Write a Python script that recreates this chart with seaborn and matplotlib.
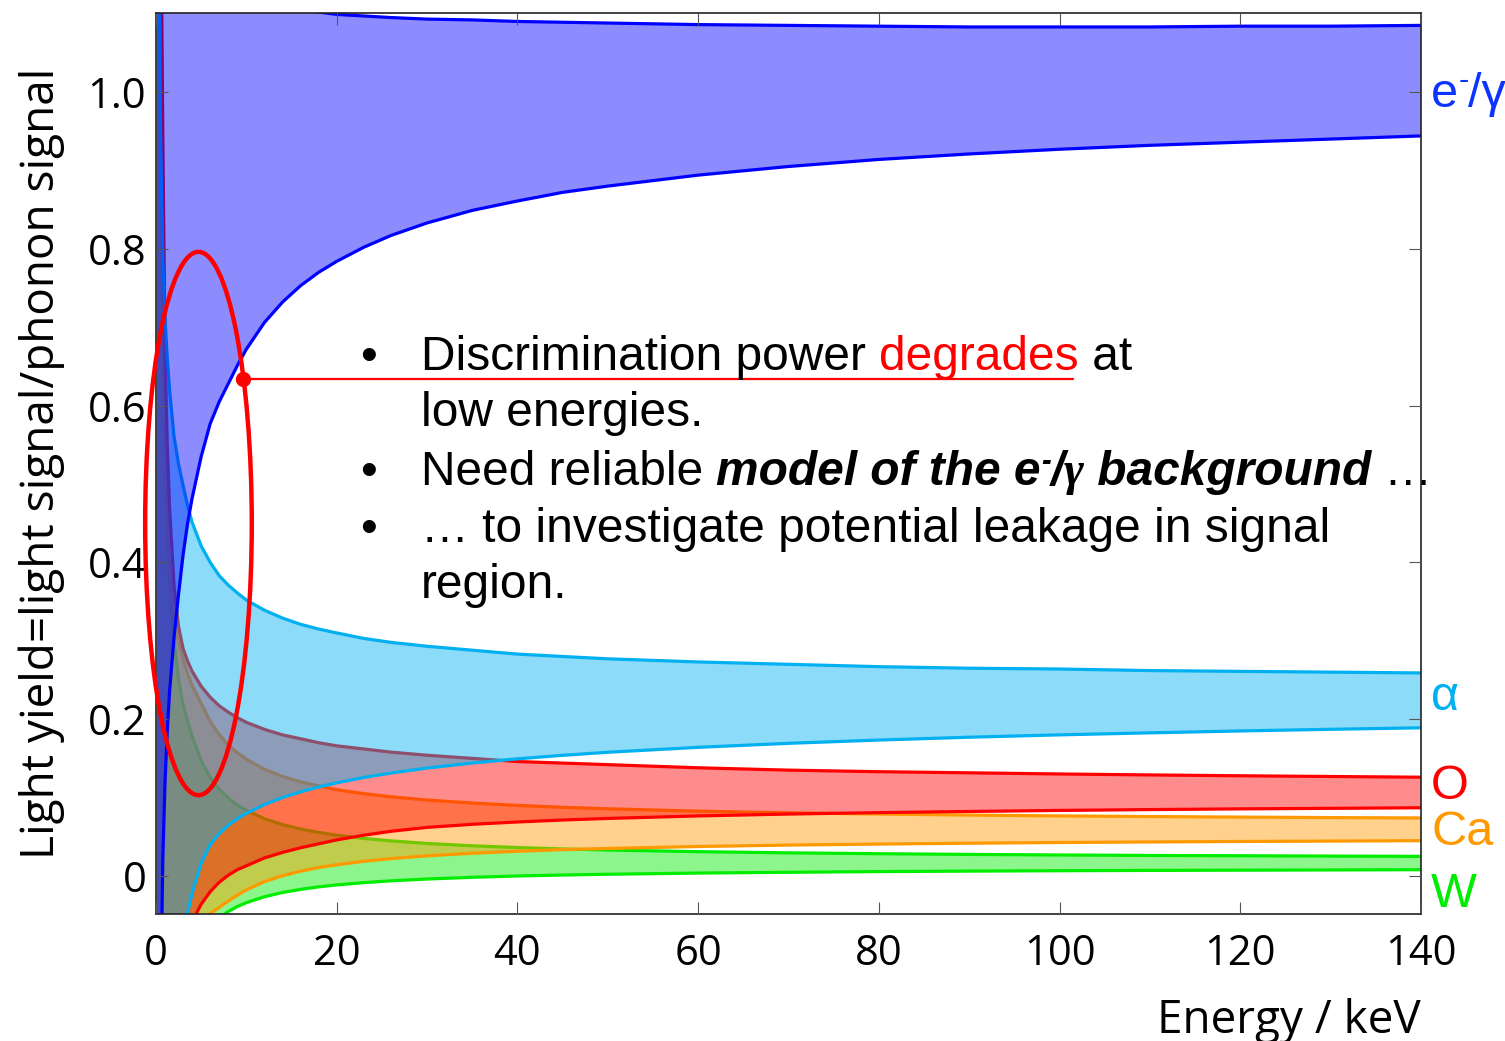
import numpy as np
import pandas as pd
import matplotlib
matplotlib.use("Agg")
import matplotlib.pyplot as plt
import seaborn as sns
from matplotlib.patches import Ellipse

# ---------------- data ----------------
energy = [0.1, 0.3, 0.5, 0.75, 1.0, 1.25, 1.5, 2, 2.5, 3, 3.5, 4, 5, 6, 7, 8, 9, 10, 12, 14,
          16, 18, 20, 23, 26, 30, 35, 40, 45, 50, 60, 70, 80, 90, 100, 110, 120, 130, 140]

egamma_upper = [5.0, 3.0, 2.0, 1.7, 1.55, 1.46, 1.4, 1.33, 1.29, 1.26, 1.24, 1.22, 1.19, 1.17,
                1.155, 1.145, 1.137, 1.13, 1.119, 1.111, 1.106, 1.102, 1.099, 1.097, 1.095,
                1.093, 1.092, 1.090, 1.089, 1.088, 1.086, 1.085, 1.084, 1.083, 1.083, 1.083,
                1.084, 1.084, 1.085]
egamma_lower = [-3.0, -0.6, -0.18, 0.02, 0.12, 0.185, 0.235, 0.305, 0.36, 0.41, 0.45, 0.482,
                0.535, 0.577, 0.605, 0.628, 0.651, 0.672, 0.706, 0.732, 0.753, 0.770, 0.784,
                0.802, 0.817, 0.833, 0.849, 0.861, 0.872, 0.880, 0.894, 0.905, 0.914, 0.921,
                0.927, 0.932, 0.936, 0.940, 0.944]

alpha_upper = [4.0, 1.3, 0.95, 0.79, 0.71, 0.66, 0.62, 0.56, 0.525, 0.498, 0.472, 0.451, 0.421,
               0.400, 0.383, 0.371, 0.361, 0.352, 0.339, 0.329, 0.321, 0.315, 0.310, 0.303,
               0.298, 0.293, 0.288, 0.283, 0.280, 0.277, 0.273, 0.270, 0.267, 0.265, 0.264,
               0.262, 0.261, 0.260, 0.259]
alpha_lower = [-5.0, -1.5, -1.0, -0.7, -0.5, -0.4, -0.32, -0.2, -0.13, -0.08, -0.047, -0.022,
               0.016, 0.040, 0.054, 0.0645, 0.073, 0.0798, 0.091, 0.100, 0.1073, 0.1135,
               0.1188, 0.1256, 0.1313, 0.1376, 0.1441, 0.1494, 0.1539, 0.1578, 0.1641, 0.1692,
               0.1734, 0.177, 0.180, 0.1826, 0.185, 0.1871, 0.189]

o_upper = [6.0, 2.0, 1.3, 0.95, 0.67, 0.55, 0.47, 0.37, 0.318, 0.290, 0.274, 0.261, 0.242,
           0.228, 0.217, 0.209, 0.202, 0.196, 0.187, 0.180, 0.175, 0.170, 0.166, 0.162, 0.158,
           0.154, 0.150, 0.146, 0.144, 0.142, 0.138, 0.135, 0.133, 0.1316, 0.1301, 0.1289,
           0.1278, 0.1269, 0.126]
o_lower = [-8.0, -2.0, -1.3, -0.9, -0.6, -0.42, -0.32, -0.2, -0.14, -0.1, -0.075, -0.058,
           -0.036, -0.02, -0.008, 0.001, 0.008, 0.013, 0.023, 0.030, 0.036, 0.041, 0.046,
           0.052, 0.057, 0.062, 0.0659, 0.0689, 0.0714, 0.0734, 0.0766, 0.079, 0.0808,
           0.0823, 0.0836, 0.0847, 0.0856, 0.0863, 0.087]

ca_upper = [5.0, 1.5, 1.0, 0.7, 0.52, 0.44, 0.39, 0.325, 0.298, 0.276, 0.258, 0.243, 0.220,
            0.197, 0.180, 0.167, 0.157, 0.149, 0.136, 0.127, 0.120, 0.115, 0.110, 0.105,
            0.101, 0.0969, 0.093, 0.090, 0.0876, 0.0857, 0.0827, 0.0806, 0.079, 0.0777,
            0.0766, 0.0758, 0.0751, 0.0745, 0.074]
ca_lower = [-10.0, -3.0, -1.5, -0.9, -0.6, -0.45, -0.35, -0.22, -0.15, -0.11, -0.09, -0.075,
            -0.058, -0.048, -0.040, -0.032, -0.0246, -0.0177, -0.0072, 0.0003, 0.0061,
            0.0107, 0.0143, 0.0187, 0.0221, 0.0257, 0.029, 0.0315, 0.0336, 0.0351, 0.0376,
            0.0394, 0.0407, 0.0418, 0.0427, 0.0434, 0.044, 0.0445, 0.045]

w_upper = [5.0, 1.5, 1.0, 0.7, 0.55, 0.45, 0.38, 0.30, 0.25, 0.218, 0.197, 0.178, 0.1467,
           0.1257, 0.1106, 0.0994, 0.0906, 0.0836, 0.0731, 0.0656, 0.0599, 0.0556, 0.0521,
           0.0479, 0.0448, 0.0415, 0.0385, 0.0363, 0.0345, 0.0331, 0.031, 0.0295, 0.0284,
           0.0275, 0.0268, 0.0262, 0.0258, 0.0254, 0.025]
w_lower = [-4.5, -1.5, -0.89, -0.59, -0.44, -0.35, -0.29, -0.215, -0.17, -0.14, -0.12, -0.10,
           -0.0792, -0.0641, -0.0534, -0.0453, -0.039, -0.034, -0.0265, -0.0211, -0.0171,
           -0.0139, -0.0114, -0.0085, -0.0062, -0.0039, -0.0017, 0.0, 0.0012, 0.0022,
           0.0037, 0.0047, 0.0056, 0.0062, 0.0067, 0.0071, 0.0074, 0.0077, 0.008]

band_names = ["W", "Ca", "O", "α", "e⁻/γ"]   # drawing order (bottom to top)
xticks = [0, 20, 40, 60, 80, 100, 120, 140]
xtick_labels = ["0", "20", "40", "60", "80", "100", "120", "140"]
yticks = [0.0, 0.2, 0.4, 0.6, 0.8, 1.0]
ytick_labels = ["0", "0.2", "0.4", "0.6", "0.8", "1.0"]

# callout annotation (ellipse around low-energy region + pointer)
ellipse_center = (4.7, 0.4496)
ellipse_size = (11.8, 0.693)
pointer_start = (9.63, 0.634)
pointer_end_x = 101.5

# ---------------- style ----------------
sns.set_theme(style="ticks")
plt.rcParams["font.family"] = ["Open Sans", "DejaVu Sans"]
SANS = ["Liberation Sans", "DejaVu Sans"]

fig = plt.figure(figsize=(15.05, 10.41), dpi=100)
ax = fig.add_axes([156 / 1505, 1 - 914 / 1041, (1421 - 156) / 1505, (914 - 13) / 1041])

bands = {
    "W": (w_lower, w_upper, (0.0, 0.93, 0.0)),
    "Ca": (ca_lower, ca_upper, (1.0, 0.6, 0.0)),
    "O": (o_lower, o_upper, (1.0, 0.0, 0.0)),
    "α": (alpha_lower, alpha_upper, (0.0, 0.69, 0.94)),
    "e⁻/γ": (egamma_lower, egamma_upper, (0.0, 0.0, 1.0)),
}

for i, name in enumerate(band_names):
    lo, hi, col = bands[name]
    z = 1 + 2 * i
    ax.fill_between(energy, lo, hi, color=col, alpha=0.45, lw=0, zorder=z)
    df = pd.DataFrame({"E": energy, "lo": lo, "hi": hi})
    for yy in ("lo", "hi"):
        sns.lineplot(data=df, x="E", y=yy, color=col, lw=2.3, ax=ax, zorder=z + 1,
                     estimator=None, sort=False, legend=False,
                     solid_joinstyle="round", solid_capstyle="round")

ax.set_xlim(0, 140)
ax.set_ylim(-0.0485, 1.1008)
ax.set_xticks(xticks)
ax.set_xticklabels(xtick_labels)
ax.set_yticks(yticks)
ax.set_yticklabels(ytick_labels)
ax.tick_params(direction="in", length=8.5, width=0.8, color="#555555",
               top=True, right=True, labelsize=30, labelcolor="black")
ax.tick_params(axis="x", pad=14)
ax.tick_params(axis="y", pad=7)
for s in ax.spines.values():
    s.set_color("#222222")
    s.set_linewidth(1.2)
    s.set_zorder(30)
ax.xaxis.set_zorder(30)
ax.yaxis.set_zorder(30)

ax.set_xlabel("Energy / keV", fontsize=33, loc="right", labelpad=16, color="black")
ax.set_ylabel("Light yield=light signal/phonon signal", fontsize=33, labelpad=16,
              color="black")

# ---------------- callout ----------------
ax.add_patch(Ellipse(ellipse_center, ellipse_size[0], ellipse_size[1], fill=False,
                     ec="red", lw=3.2, clip_on=False, zorder=40))
ax.plot([pointer_start[0]], [pointer_start[1]], "o", color="red", ms=10,
        clip_on=False, zorder=41)
ax.plot([pointer_start[0], pointer_end_x], [pointer_start[1]] * 2, color="red",
        lw=1.6, clip_on=False, zorder=41)


# ---------------- text helpers ----------------
def chain(first, pieces):
    prev = first
    for txt, kw in pieces:
        kw = dict(kw)
        dy = kw.pop("dy", 0)
        prev = ax.annotate(txt, xy=(1, 0), xycoords=prev, xytext=(0, dy),
                           textcoords="offset points", va="bottom", ha="left",
                           annotation_clip=False, **kw)
    return prev


FS = 34.5
norm = dict(fontsize=FS, family=SANS, color="black")
red = dict(fontsize=FS, family=SANS, color="red")
bi = dict(fontsize=FS, family=SANS, color="black", style="italic", weight="bold")
bi_sup = dict(fontsize=21, family=SANS, color="black", style="italic", weight="bold")
gam = dict(fontsize=FS, family=["Liberation Serif", "DejaVu Serif"], color="black",
           style="italic", weight="bold")

tx = 421 / 1505
bx = 368 / 1505
baselines = [370, 426, 485, 542, 598]
by = [1 - b / 1041 for b in baselines]

for k in (0, 2, 3):
    fig.text(bx, by[k], "•", ha="center", va="baseline", **norm)

t = fig.text(tx, by[0], "Discrimination power ", va="baseline", ha="left", **norm)
chain(t, [("degrades", red), (" at", norm)])
fig.text(tx, by[1], "low energies.", va="baseline", ha="left", **norm)
t = fig.text(tx, by[2], "Need reliable ", va="baseline", ha="left", **norm)
chain(t, [("model of the e", bi), ("-", dict(bi_sup, dy=14)), ("/", dict(bi, dy=-14)),
          ("γ", gam), (" background", bi), (" …", norm)])
fig.text(tx, by[3], "… to investigate potential leakage in signal", va="baseline",
         ha="left", **norm)
fig.text(tx, by[4], "region.", va="baseline", ha="left", **norm)

# right-hand band labels
ytrans = ax.get_yaxis_transform()
lx = 1 + 10 / 1265
LFS = 35
t = ax.text(lx, 0.981, "e", transform=ytrans, va="baseline", ha="left", clip_on=False,
            fontsize=LFS, family=SANS, color=(0.05, 0.2, 1.0))
chain(t, [("-", dict(fontsize=22, family=SANS, color=(0.05, 0.2, 1.0), dy=15)),
          ("/γ", dict(fontsize=LFS, family=SANS, color=(0.05, 0.2, 1.0), dy=-15))])
ax.text(lx, 0.212, "α", transform=ytrans, va="baseline", ha="left", clip_on=False,
        fontsize=LFS, family=SANS, color=(0.0, 0.69, 0.94))
ax.text(lx, 0.098, "O", transform=ytrans, va="baseline", ha="left", clip_on=False,
        fontsize=LFS, family=SANS, color=(1.0, 0.0, 0.0))
ax.text(lx, 0.040, "Ca", transform=ytrans, va="baseline", ha="left", clip_on=False,
        fontsize=LFS, family=SANS, color=(1.0, 0.6, 0.0))
ax.text(lx, -0.039, "W", transform=ytrans, va="baseline", ha="left", clip_on=False,
        fontsize=LFS, family=SANS, color=(0.0, 0.93, 0.0))

fig.savefig("out.png", dpi=100)
